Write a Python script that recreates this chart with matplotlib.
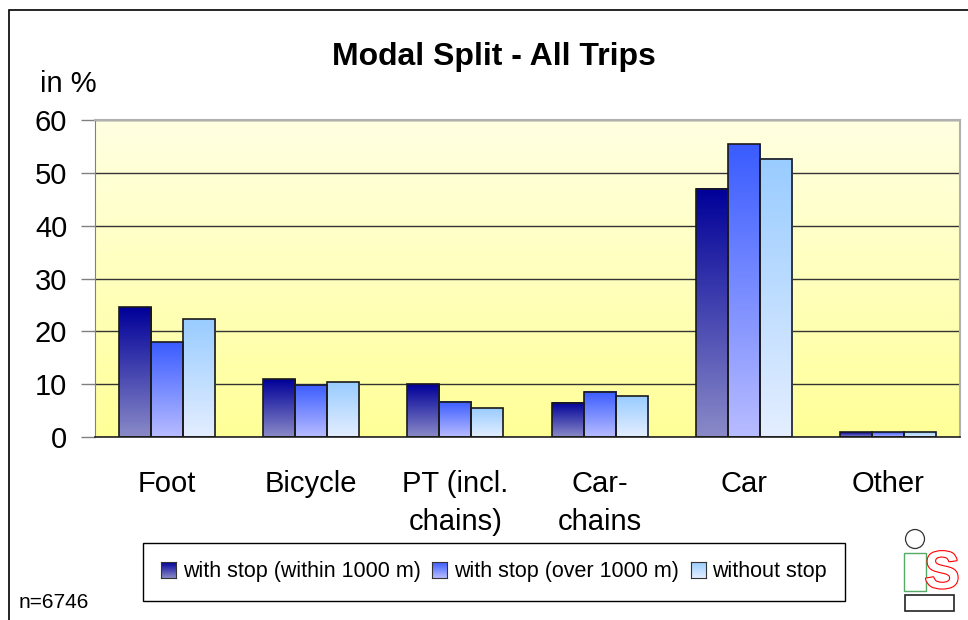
import numpy as np
import matplotlib
matplotlib.use('Agg')
import matplotlib.pyplot as plt
from matplotlib.patches import Rectangle, Ellipse
import matplotlib.patheffects as pe

plt.rcParams['font.family'] = ['Liberation Sans', 'DejaVu Sans']

# data
categories = ['Foot', 'Bicycle', 'PT (incl.\nchains)', 'Car-\nchains', 'Car', 'Other']
series_names = ['with stop (within 1000 m)', 'with stop (over 1000 m)', 'without stop']
within_1000 = [24.6, 10.9, 10.0, 6.5, 47.0, 0.9]
over_1000 = [17.9, 9.9, 6.7, 8.6, 55.4, 0.9]
without_stop = [22.3, 10.4, 5.4, 7.7, 52.7, 0.9]
y_ticks = [0, 10, 20, 30, 40, 50, 60]

# top / bottom colours of each bar gradient
grad_cols = [('#000099', '#8a8ac8'),
             ('#3a5cff', '#b8bcff'),
             ('#99ccff', '#e4eeff')]


def hex2rgb(h):
    h = h.lstrip('#')
    return np.array([int(h[i:i + 2], 16) for i in (0, 2, 4)]) / 255.0


def vgrad(top, bottom, n=128):
    t = np.linspace(0, 1, n)[:, None]
    c = hex2rgb(top) * (1 - t) + hex2rgb(bottom) * t
    return c[:, None, :]


W, H = 968, 620
fig = plt.figure(figsize=(W / 100, H / 100), dpi=100)
ax = fig.add_axes([95 / W, 1 - 437 / H, 865 / W, 317 / H])

# plot area background
ax.imshow(vgrad('#ffffe2', '#ffff98'), extent=(-0.5, 5.5, 0, 60),
          aspect='auto', zorder=0, interpolation='bilinear')

bw = 0.222
x = np.arange(len(categories))
for k, vals in enumerate([within_1000, over_1000, without_stop]):
    top, bot = grad_cols[k]
    for xi, v in zip(x + (k - 1) * bw, vals):
        ax.imshow(vgrad(top, bot), extent=(xi - bw / 2, xi + bw / 2, 0, v),
                  aspect='auto', zorder=2, interpolation='bilinear')
        ax.add_patch(Rectangle((xi - bw / 2, 0), bw, v, fill=False,
                               edgecolor='#1a1a1a', lw=1.2, zorder=3))

ax.set_xlim(-0.5, 5.5)
ax.set_ylim(0, 60)
ax.set_yticks(y_ticks)
ax.set_xticks(x)
ax.set_xticklabels(categories, fontsize=21, linespacing=1.45, va='top')
ax.tick_params(axis='x', length=0, pad=24)
ax.tick_params(axis='y', length=10, width=1, color='#808080', pad=10, labelsize=21)
ax.yaxis.grid(True, color='#333333', lw=1)
ax.set_axisbelow(True)
for s in ['top', 'right']:
    ax.spines[s].set_color('#b0b0b0')
    ax.spines[s].set_linewidth(1.5)
ax.spines['left'].set_color('#808080')
ax.spines['bottom'].set_color('#222222')
ax.spines['bottom'].set_linewidth(1.2)

fig.text(494 / W, 1 - 57 / H, 'Modal Split - All Trips', fontsize=23,
         fontweight='bold', ha='center', va='center')
fig.text(40 / W, 1 - 84 / H, 'in %', fontsize=21, ha='left', va='center')
fig.text(19 / W, 1 - 603 / H, 'n=6746', fontsize=15, ha='left', va='center')

# legend, small squares get the same gradients as the bars
handles = [Rectangle((0, 0), 1, 1, facecolor='none', edgecolor='none')
           for _ in series_names]
leg = fig.legend(handles, series_names, loc='center', ncol=3,
                 bbox_to_anchor=(494 / W, 1 - 572 / H), fontsize=15.5,
                 frameon=True, fancybox=False, edgecolor='black', framealpha=1,
                 handlelength=0.7, handleheight=0.7, handletextpad=0.3,
                 columnspacing=0.55, borderpad=0.85)
leg.set_zorder(5)
fig.canvas.draw()
inv = fig.transFigure.inverted()
for patch, (top, bot) in zip(leg.get_patches(), grad_cols):
    bb = patch.get_window_extent().transformed(inv)
    iax = fig.add_axes([bb.x0, bb.y0, bb.width, bb.height])
    iax.set_zorder(20)
    iax.imshow(vgrad(top, bot), aspect='auto', extent=(0, 1, 0, 1))
    iax.set_xticks([])
    iax.set_yticks([])
    for sp in iax.spines.values():
        sp.set_color('#333333')
        sp.set_linewidth(0.8)

# outer chart frame
fig.add_artist(Rectangle((8.5 / W, -0.1), 1.2, 1 - 10 / H + 0.1,
                         transform=fig.transFigure, fill=False,
                         edgecolor='black', lw=1.2))

# logo
fig.add_artist(Ellipse((915 / W, 1 - 539 / H), 19 / W, 19 / H,
                       transform=fig.transFigure, fill=False,
                       edgecolor='#333333', lw=0.9))
fig.add_artist(Rectangle((904 / W, 1 - 591 / H), 22 / W, 38 / H,
                         transform=fig.transFigure, fill=False,
                         edgecolor='#55aa66', lw=1))
fig.add_artist(Rectangle((905 / W, 1 - 611 / H), 49 / W, 16 / H,
                         transform=fig.transFigure, fill=False,
                         edgecolor='#222222', lw=1.2))
fig.text(942 / W, 1 - 574 / H, 'S', fontsize=38, fontweight='bold', color='white',
         ha='center', va='center',
         path_effects=[pe.withStroke(linewidth=1.6, foreground='red')])

fig.savefig('out.png', dpi=100)
